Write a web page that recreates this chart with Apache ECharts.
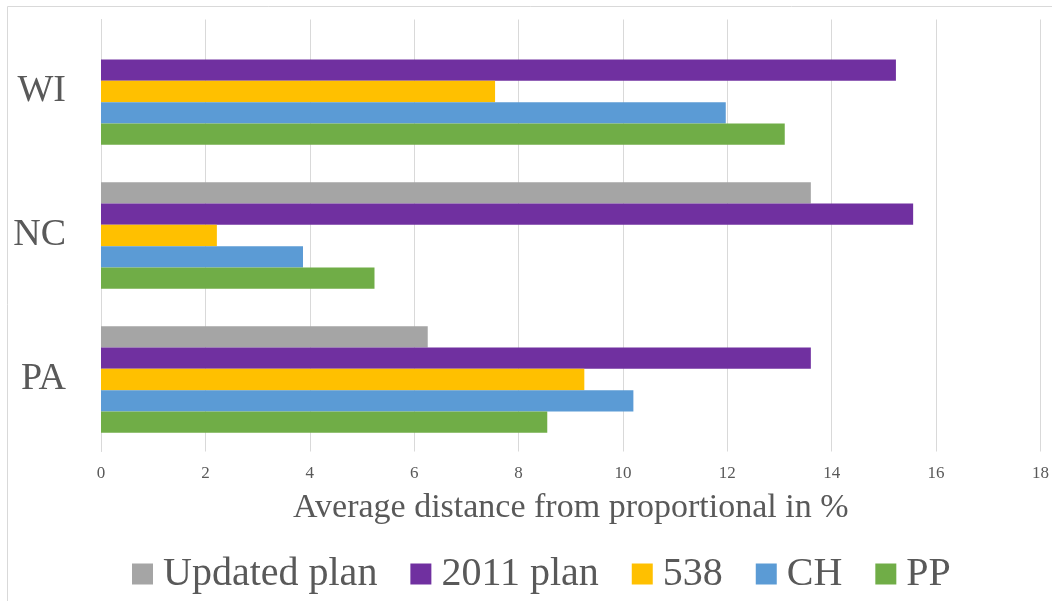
<!DOCTYPE html>
<html>
<head>
<meta charset="utf-8">
<script src="https://cdn.jsdelivr.net/npm/echarts@6/dist/echarts.min.js"></script>
<style>
html,body{margin:0;padding:0;background:#fff;}
#c{width:1052px;height:601px;}
</style>
</head>
<body>
<div id="c"></div>
<script>
const categories = ['PA', 'NC', 'WI'];
const seriesNames = ['Updated plan', '2011 plan', '538', 'CH', 'PP'];
const updatedPlan = [6.26, 13.60, null];
const plan2011 = [13.60, 15.56, 15.23];
const fiveThirtyEight = [9.26, 2.22, 7.55];
const ch = [10.20, 3.87, 11.97];
const pp = [8.55, 5.24, 13.10];
const xTicks = [0, 2, 4, 6, 8, 10, 12, 14, 16, 18];

const colors = ['#a5a5a5', '#7030a0', '#ffc000', '#5b9bd5', '#70ad47'];
const values = [updatedPlan, plan2011, fiveThirtyEight, ch, pp];
const FONT = '"Liberation Serif", serif';
const TXT = '#595959';

const chart = echarts.init(document.getElementById('c'), null, {renderer: 'canvas'});
chart.setOption({
  animation: false,
  textStyle: {fontFamily: FONT},
  graphic: [{
    type: 'rect', silent: true,
    shape: {x: 7.5, y: 6.5, width: 1100, height: 700},
    style: {fill: 'none', stroke: '#d9d9d9', lineWidth: 1}
  }],
  grid: {left: 101, right: 11, top: 19.5, bottom: 149.5, containLabel: false},
  legend: {
    data: seriesNames,
    left: 127, top: 549,
    itemWidth: 21, itemHeight: 21, itemGap: 33,
    icon: 'rect',
    textStyle: {fontFamily: FONT, fontSize: 40, color: TXT, padding: [0, 0, 0, 5]}
  },
  xAxis: {
    type: 'value', min: xTicks[0], max: xTicks[xTicks.length - 1], interval: 2,
    name: 'Average distance from proportional in %',
    nameLocation: 'middle', nameGap: 40,
    nameTextStyle: {fontFamily: FONT, fontSize: 34, color: TXT},
    axisLine: {show: false}, axisTick: {show: false},
    axisLabel: {fontFamily: FONT, fontSize: 17, color: TXT, margin: 14},
    splitLine: {show: true, lineStyle: {color: '#d9d9d9', width: 1}}
  },
  yAxis: {
    type: 'category', data: categories,
    axisLine: {show: true, lineStyle: {color: '#d9d9d9'}},
    axisTick: {show: false},
    axisLabel: {fontFamily: FONT, fontSize: 38, color: TXT, margin: 35}
  },
  series: seriesNames.map((n, i) => ({
    name: n, type: 'bar', data: values[i],
    barGap: '0%', barCategoryGap: '26%',
    itemStyle: {color: colors[i]}
  }))
});
</script>
</body>
</html>
